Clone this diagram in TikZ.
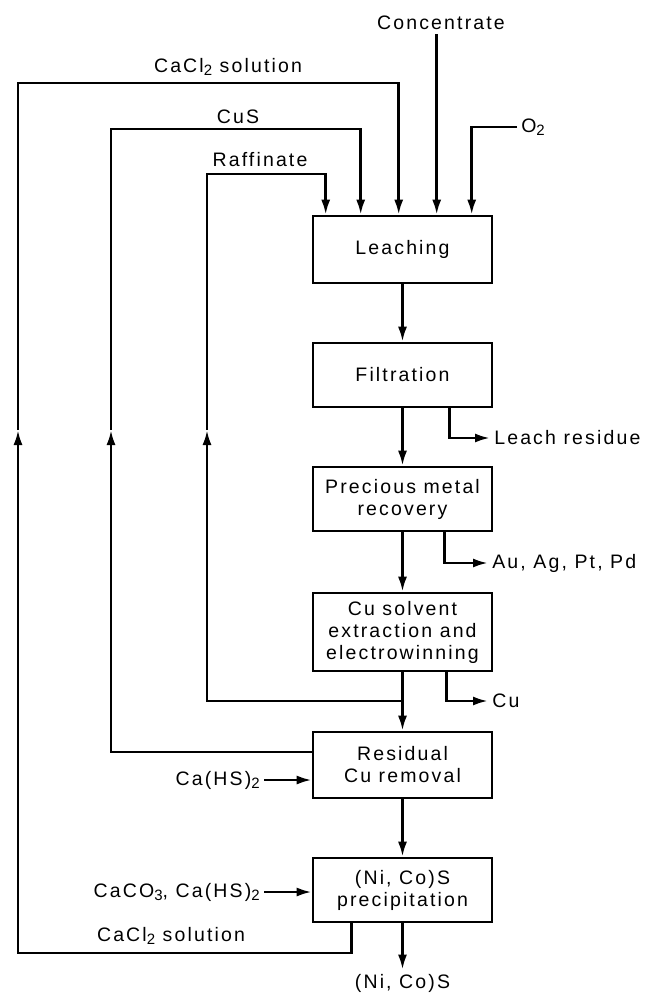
\documentclass[tikz,border=0pt]{standalone}
\usepackage{fontspec}
\setmainfont{Liberation Sans}[LetterSpace=11]
\usetikzlibrary{arrows.meta,calc}
\newcommand{\chsub}[1]{\raisebox{-0.35ex}{\fontsize{15}{15}\selectfont #1}}

\begin{document}
\begin{tikzpicture}[
  x=1pt, y=-1pt,
  font=\fontsize{19.5}{22}\selectfont,
  line width=2.6pt,
  unit/.style ={draw, minimum width=179pt, align=center, inner sep=2pt},
  lbl/.style  ={inner sep=3pt},
  ar/.style   ={-{Latex[length=15pt,width=9pt]}}
]
\useasboundingbox (0,0) rectangle (666,993);

% ---------- process units ----------
\node[unit, minimum height=67pt] (leach) at (402.5,249.5) {Leaching};
\node[unit, minimum height=64pt] (filt)  at (402.5,375)   {Filtration};
\node[unit, minimum height=64pt] (pmr)   at (402.5,499)   {Precious metal\\recovery};
\node[unit, minimum height=78pt] (cusx)  at (402.5,632)   {Cu solvent\\extraction and\\electrowinning};
\node[unit, minimum height=66pt] (rcu)   at (402.5,765)   {Residual\\Cu removal};
\node[unit, minimum height=64pt] (nicos) at (402.5,890)   {(Ni, Co)S\\precipitation};

% ---------- stream labels ----------
\node[lbl] (conc) at (441,23)  {Concentrate};
\node[lbl] (clt)  at (228,67)  {CaCl\chsub{2} solution};
\node[lbl] (cus)  at (238,117) {CuS};
\node[lbl] (raff) at (260,160) {Raffinate};
\node[lbl, anchor=west] (o2)    at (517,127) {O\chsub{2}};
\node[lbl, anchor=west] (resid) at (490,438) {Leach residue};
\node[lbl, anchor=west] (pgm)   at (488,563) {Au, Ag, Pt, Pd};
\node[lbl, anchor=west] (cu)    at (488,701) {Cu};
\node[lbl, anchor=east] (cahs)  at (264,780) {Ca(HS)\chsub{2}};
\node[lbl, anchor=east] (caco)  at (264,892) {CaCO\chsub{3}, Ca(HS)\chsub{2}};
\node[lbl] (clb)  at (171,936) {CaCl\chsub{2} solution};
\node[lbl] (prod) at (402.5,983) {(Ni, Co)S};

% ---------- feeds into leaching ----------
\coordinate (inR) at ($(leach.north west)+(14,0)$);
\coordinate (inS) at ($(leach.north west)+(49,0)$);
\coordinate (inL) at ($(leach.north west)+(87,0)$);
\coordinate (inC) at ($(leach.north west)+(125,0)$);
\coordinate (inO) at ($(leach.north west)+(160,0)$);

\draw[ar] (conc.south -| inC) -- (inC);
\draw[ar] (o2.west) -| (inO);

% ---------- main line ----------
\draw[ar] (leach) -- (filt);
\draw[ar] (filt) -- (pmr);
\draw[ar] (pmr) -- (cusx);
\draw[ar] (cusx) -- (rcu);
\draw[ar] (rcu) -- (nicos);
\draw[ar] (nicos) -- (prod);

% ---------- products and reagents ----------
\draw[ar] ($(filt.south west)+(138,0)$) |- (resid.west);
\draw[ar] ($(pmr.south west)+(133,0)$) |- (pgm.west);
\draw[ar] ($(cusx.south west)+(135,0)$) |- (cu.west);
\draw[ar] (cahs.east) -- (cahs.east -| rcu.west);
\draw[ar] (caco.east) -- (caco.east -| nicos.west);

% ---------- recycle loops ----------
\coordinate (raA) at (207,701);
\coordinate (raM) at (207,430);
\coordinate (raB) at (207,174);
\draw[ar] (raA -| cusx.south) -- (raA) -- (raM);
\draw[ar] (raM) -- (raB) -| (inR);

\coordinate (cuA) at (111,752);
\coordinate (cuM) at (111,430);
\coordinate (cuB) at (111,129);
\draw[ar] (cuA -| rcu.west) -- (cuA) -- (cuM);
\draw[ar] (cuM) -- (cuB) -| (inS);

\coordinate (clA) at (18,953);
\coordinate (clM) at (18,430);
\coordinate (clB) at (18,83);
\draw[ar] ($(nicos.south west)+(40,0)$) |- (clA) -- (clM);
\draw[ar] (clM) -- (clB) -| (inL);
\end{tikzpicture}
\end{document}
